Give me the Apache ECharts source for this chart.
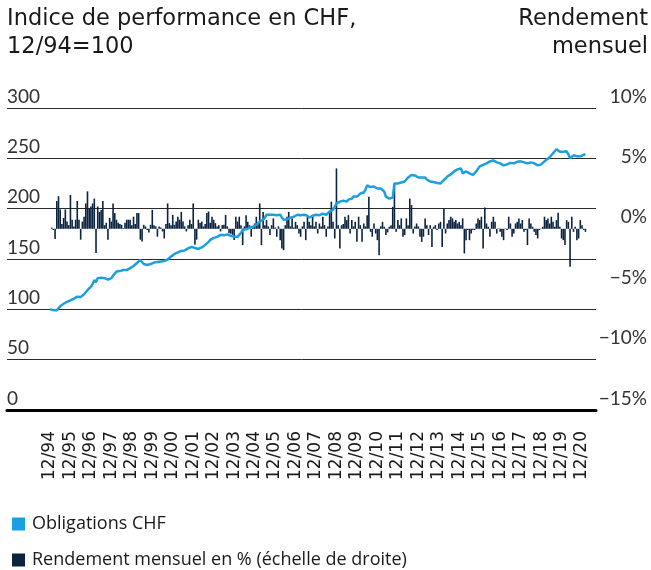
<!DOCTYPE html>
<html>
<head>
<meta charset="utf-8">
<script src="https://cdn.jsdelivr.net/npm/echarts@6/dist/echarts.min.js"></script>
<style>
  html, body { margin: 0; padding: 0; background: #ffffff; }
  #chart { width: 651px; height: 570px; }
</style>
</head>
<body>
<div id="chart"></div>
<script>
// Year-end tick labels (one every 12 months, starting 12/94)
const yearLabels = ['12/94','12/95','12/96','12/97','12/98','12/99','12/00','12/01','12/02',
  '12/03','12/04','12/05','12/06','12/07','12/08','12/09','12/10','12/11','12/12','12/13',
  '12/14','12/15','12/16','12/17','12/18','12/19','12/20'];

// Monthly performance index, CHF bonds, 12/94 = 100
const indexValues = [
  100, 99.5, 99.2, 99.6, 99, 101, 103, 104, 105.5, 106, 107.5, 108,
  109, 110, 110.5, 111.5, 112.6, 112.8, 112.3, 113, 115, 117, 119, 120.5,
  122.5, 125, 129, 127, 131, 132, 131.5, 132, 131, 130, 129.5, 129,
  131, 133.5, 135, 137.5, 137, 138, 138.5, 139, 138.5, 139, 140, 141,
  142, 143, 144.5, 146, 147, 149, 147, 145, 144, 144, 144.5, 145,
  146, 146.5, 147, 147, 146.5, 147.5, 148, 148, 149, 149.5, 151, 152.5,
  154, 155, 156, 156.5, 157.5, 158, 159, 158.5, 160, 160.5, 161.5, 162,
  163, 161, 160, 160, 160.6, 161.5, 162.5, 164, 165.5, 167, 169, 170,
  171, 171.5, 172, 173, 174, 174, 173.5, 175, 174.5, 174, 173, 172.5,
  172, 171.5, 172, 174, 176, 179, 178, 179.5, 180.5, 181, 180, 182,
  183, 184, 185, 187, 186, 189, 191, 194, 193.5, 194, 193, 194,
  194.5, 193.5, 193, 194, 191, 189, 189, 189.5, 190.5, 191, 191, 192,
  193, 194, 194.5, 193.5, 194, 194, 194, 193, 191, 192, 193, 193.5,
  194, 194, 193.5, 194, 195, 194.5, 194, 195, 197, 198, 199, 199,
  205, 204, 207, 207.5, 208, 207, 207, 209, 208.5, 210, 212, 211.5,
  212, 213.5, 215, 214, 216, 219, 223, 222, 221.5, 222.5, 222, 221,
  220, 219, 220, 219, 217, 212, 211, 210, 209, 211, 225, 224,
  225, 225.5, 226, 225, 227, 229, 231, 232, 233.5, 232.5, 233, 232,
  231, 230, 231, 232, 231, 229, 228, 227, 227, 226.5, 226, 225.5,
  225, 225, 227, 228.5, 230, 232, 233, 234, 235.5, 237, 238, 239,
  239, 240, 235, 236, 237, 236.5, 235, 234, 233.5, 235, 237, 239.5,
  242, 243, 243.5, 244.5, 245, 246, 247, 248, 248, 247, 246, 245,
  245, 244, 243, 243, 244, 245, 245.5, 244.5, 245, 246, 246.5, 247,
  247, 246.5, 246, 245.5, 245, 245.5, 246, 246, 245, 244, 243, 242,
  244, 245.5, 247, 248, 249.5, 251, 253, 255, 257, 259, 257.5, 256.5,
  256, 256.5, 257.5, 257, 254, 250, 251.5, 253, 252.5, 252, 252, 252,
  253, 253.5, 254
];

// Monthly return in % (right-hand scale)
const monthlyReturns = [
  null, 0.1, -0.1, -0.85, 2.3, 2.7, 1.6, 0.4, 0.9, 1.6, 0.6, 0.3,
  2.8, 0.75, 0.2, 0.75, 2.3, 0.75, -0.9, 0.6, 1.0, 2.1, 3.1, 1.7,
  1.85, 2.1, 2.5, -2.0, 1.85, 1.4, 1.55, 2.3, 0.3, 0.5, -0.9, 0.9,
  0.6, 2.1, 1.3, 0.75, 0.5, 0.4, 0.33, 0.05, 0.5, 0.75, 0.75, 0.75,
  0.3, 1.0, 0.4, 1.3, 1.3, -0.9, -1.05, 0.33, 0.2, -0.1, -0.3, 0.33,
  1.57, 0.3, 0.2, -0.65, 0.2, 0.1, -0.22, -0.8, 0.4, 2.1, 0.47, 0.3,
  1.15, 0.33, 0.6, 1.0, 0.75, 1.4, 0.6, 0.2, -0.22, 0.3, 0.75, 0.4,
  2.1, -1.33, -0.9, 0.75, 0.47, 0.6, 0.2, 0.4, 1.3, 1.43, 0.5, 1.0,
  0.75, 0.47, 0.2, 0.3, -0.22, 0.3, 0.33, 1.15, 0.2, -0.36, -0.4, -0.5,
  -0.93, 1.0, 0.6, 1.0, 0.3, -1.35, 0.2, 1.13, 0.58, 0.3, -0.66, 0.2,
  0.44, 1.0, 0.4, 2.1, -1.35, 1.4, 0.3, 0.72, 0.2, -0.52, 0.3, 0.86,
  0.1, -0.66, 0.2, -0.94, -1.63, -1.77, 0.3, 1.0, 1.4, 0.2, 0.86, 0.1,
  0.58, 0.3, -0.39, -0.66, 0.2, 0.58, -0.94, 1.0, 0.58, 0.3, 1.13, 0.2,
  0.58, -0.39, 0.44, 0.2, 1.0, 0.3, -0.66, 0.2, 1.4, 2.24, 0.58, -0.8,
  5.0, 0.3, -1.63, 0.3, 0.4, 1.0, 0.72, 1.13, -0.39, 0.72, 0.2, 0.58,
  -1.08, 1.0, 0.3, -1.08, 0.44, 0.2, 1.13, 2.65, -0.25, -0.66, 0.44, -0.39,
  -0.94, -2.18, 0.2, 0.58, 0.17, -0.52, -0.3, 0.17, 0.3, 1.82, 3.76, -0.25,
  0.72, 0.3, 0.86, -0.66, -0.52, 0.86, 0.3, 2.5, 1.96, -0.39, 0.2, 0.44,
  0.2, -0.66, -1.08, -0.66, 0.86, 0.3, -0.52, 0.3, -1.5, 0.17, 0.3, -0.1,
  0.44, 0.58, -1.5, 1.69, -0.39, 0.44, 0.72, 1.0, 0.86, 0.58, 0.72, 0.44,
  0.58, 0.3, 0.86, -2.04, -0.94, -0.1, -0.94, -0.39, -0.1, -0.1, 0.44, 0.86,
  0.72, 1.0, -1.63, 1.77, 0.44, 0.17, -0.66, 0.58, 1.0, 0.58, -0.39, 0.03,
  -0.25, -0.66, -0.94, 0.03, -0.1, 1.0, 0.44, -0.66, -0.39, 0.44, 0.58, 0.86,
  0.44, 0.72, -0.25, -0.1, -1.35, 0.86, 0.44, 0.17, -0.25, -0.52, -0.8, -0.1,
  0.03, 0.17, 1.0, 0.72, 0.86, 0.44, 1.0, 0.58, 0.17, 0.72, 1.33, 0.17,
  -0.8, -0.94, -1.35, 0.72, 0.58, -3.15, 1.0, -0.25, 0.17, -0.94, -0.8, 0.72,
  0.3, -0.1, -0.25
];

const seriesNames = ['Obligations CHF', 'Rendement mensuel en % (échelle de droite)'];

const FONT = 'Lato, "Open Sans", sans-serif';
const TITLE_FONT = '"DejaVu Sans", sans-serif';
const LEGEND_FONT = '"Open Sans", sans-serif';
const BLUE = '#1a9fe0';
const NAVY = '#0c2340';

const chart = echarts.init(document.getElementById('chart'), null, { renderer: 'canvas' });

const pct = v => (v < 0 ? '\u2212' + Math.abs(v) : String(v)) + '%';

const legendBase = {
  orient: 'vertical', left: 7,
  itemWidth: 13, itemHeight: 13,
  icon: 'rect',
  textStyle: { fontFamily: LEGEND_FONT, fontSize: 18, color: '#1a1a1a', padding: [0, 0, 0, 2] }
};

chart.setOption({
  animation: false,
  backgroundColor: '#ffffff',
  grid: { left: 7, right: 55, top: 108, bottom: 160, containLabel: false, outerBoundsMode: 'none' },
  graphic: [
    {
      type: 'text', left: 7, top: 5,
      style: { text: 'Indice de performance en CHF,\n12/94=100', font: '22.5px ' + TITLE_FONT, fill: '#1a1a1a', lineHeight: 28 }
    },
    {
      type: 'text', right: 3, top: 5,
      style: { text: 'Rendement', font: '22.5px ' + TITLE_FONT, fill: '#1a1a1a', lineHeight: 28 }
    },
    {
      type: 'text', right: 3, top: 33,
      style: { text: 'mensuel', font: '22.5px ' + TITLE_FONT, fill: '#1a1a1a', lineHeight: 28 }
    }
  ],
  legend: [
    Object.assign({}, legendBase, { top: 510, data: [seriesNames[0]] }),
    Object.assign({}, legendBase, { top: 546, data: [seriesNames[1]] })
  ],
  xAxis: {
    type: 'value', min: -25.2, max: 320.2,
    splitLine: { show: false },
    axisTick: { show: false },
    axisLine: { show: true, onZero: false, lineStyle: { color: '#000', width: 3 } },
    axisLabel: {
      customValues: yearLabels.map((_, i) => i * 12),
      formatter: v => yearLabels[Math.round(v / 12)],
      rotate: 90, margin: 21,
      fontFamily: TITLE_FONT, fontSize: 17, color: '#1a1a1a'
    }
  },
  yAxis: [
    {
      type: 'value', min: 0, max: 300, interval: 50, position: 'left',
      axisLine: { show: false }, axisTick: { show: false },
      splitLine: { show: true, lineStyle: { color: '#2a2a2a', width: 1 } },
      axisLabel: {
        inside: true, margin: 0, align: 'left', verticalAlign: 'bottom',
        padding: [0, 0, 2, 0],
        fontFamily: FONT, fontSize: 19, color: '#333'
      }
    },
    {
      type: 'value', min: -15, max: 10, interval: 5, position: 'right',
      axisLine: { show: false }, axisTick: { show: false },
      splitLine: { show: false },
      axisLabel: {
        margin: 51, align: 'right', verticalAlign: 'bottom',
        padding: [0, 0, 2, 0],
        formatter: pct,
        fontFamily: FONT, fontSize: 19, color: '#333'
      }
    }
  ],
  series: [
    {
      name: seriesNames[1], type: 'bar', yAxisIndex: 1,
      barWidth: 1.6,
      itemStyle: { color: NAVY },
      data: monthlyReturns.map((v, i) => [i, v]),
      z: 2
    },
    {
      name: seriesNames[0], type: 'line', yAxisIndex: 0,
      showSymbol: false, symbol: 'none',
      lineStyle: { color: BLUE, width: 2.5 },
      itemStyle: { color: BLUE },
      data: indexValues.map((v, i) => [i, v]),
      z: 3
    }
  ]
});
</script>
</body>
</html>
